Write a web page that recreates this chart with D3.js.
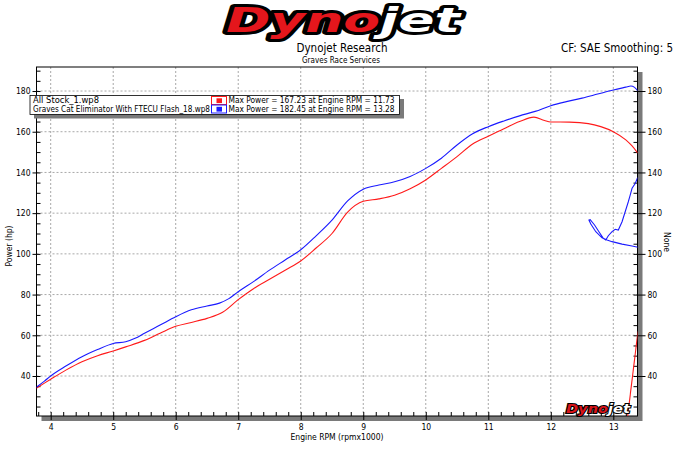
<!DOCTYPE html>
<html>
<head>
<meta charset="utf-8">
<script src="https://cdn.jsdelivr.net/npm/d3@7"></script>
<style>
  body { margin: 0; background: #fff; }
  text { font-family: "DejaVu Sans Condensed", "Liberation Sans", sans-serif; }
</style>
</head>
<body>
<div id="chart"></div>
<script>
// chart values
const rpmStock = [3.77, 3.9, 4.0, 4.25, 4.5, 4.75, 5.0, 5.2, 5.5, 5.75, 6.0, 6.25, 6.5, 6.75, 7.0, 7.25, 7.5, 7.75, 8.0, 8.25, 8.5, 8.75, 9.0, 9.25, 9.5, 9.75, 10.0, 10.25, 10.5, 10.75, 11.0, 11.25, 11.5, 11.73, 11.9, 12.0, 12.3, 12.6, 12.8, 13.0, 13.2, 13.3, 13.39]
const hpStock = [34.0, 36.5, 38.4, 43.0, 47.0, 50.0, 52.3, 54.3, 57.5, 61.0, 64.4, 66.3, 68.3, 71.3, 77.5, 83.0, 87.5, 92.0, 96.5, 103.0, 110.0, 120.5, 125.8, 127.0, 128.8, 132.0, 136.3, 142.0, 147.8, 154.0, 157.8, 161.5, 165.0, 167.2, 165.5, 164.8, 164.7, 164.0, 162.5, 160.0, 156.0, 153.0, 149.5]

const rpmCat = [3.77, 3.9, 4.0, 4.25, 4.5, 4.75, 5.0, 5.2, 5.35, 5.5, 5.75, 6.0, 6.25, 6.5, 6.7, 6.85, 7.0, 7.25, 7.5, 7.75, 8.0, 8.25, 8.5, 8.75, 9.0, 9.25, 9.5, 9.75, 10.0, 10.25, 10.5, 10.75, 11.0, 11.25, 11.5, 11.75, 12.0, 12.25, 12.5, 12.75, 13.0, 13.2, 13.28, 13.34, 13.39]
const hpCat = [34.5, 37.5, 40.0, 45.0, 49.5, 53.0, 56.0, 56.8, 58.5, 61.0, 65.0, 69.1, 72.5, 74.4, 75.8, 78.0, 81.4, 86.5, 92.0, 97.0, 102.0, 109.0, 116.6, 126.0, 131.8, 133.8, 135.4, 138.0, 142.0, 147.0, 153.5, 159.0, 162.5, 165.3, 167.8, 170.0, 172.8, 174.8, 176.5, 178.5, 180.5, 181.9, 182.45, 181.8, 180.2]

// second channel traces (right axis "None")
const rpmCatAux = [13.40, 13.30, 13.14, 12.98, 12.90, 12.82, 12.72, 12.64, 12.61, 12.63, 12.70, 12.77, 12.84, 12.88, 12.92, 12.98, 13.03, 13.08, 13.14, 13.19, 13.24, 13.27, 13.30, 13.35, 13.39]
const valCatAux = [103.2, 103.9, 104.8, 106.0, 106.8, 107.9, 110.9, 114.7, 116.6, 116.8, 114.2, 110.9, 107.6, 106.8, 108.9, 110.9, 112.1, 111.7, 115.8, 120.7, 125.6, 128.9, 132.2, 134.6, 137.5]
const rpmStockAux = [13.23, 13.395]
const valStockAux = [20.4, 62.0]

const xTicks = [4, 5, 6, 7, 8, 9, 10, 11, 12, 13]
const yTicks = [40, 60, 80, 100, 120, 140, 160, 180]
const runNames = ["All Stock_1.wp8", "Graves Cat Eliminator With FTECU Flash_18.wp8"]
const runMax = ["Max Power = 167.23 at Engine RPM = 11.73", "Max Power = 182.45 at Engine RPM = 13.28"]
const runColors = ["#ff1a1a", "#1a1aff"]

var width = 680, height = 457
var plot = {left: 36.5, right: 637.5, top: 67, bottom: 416}

const svg = d3.select("#chart").append("svg")
    .attr("width", width)
    .attr("height", height)

const x = d3.scaleLinear().domain([3.773, 13.387]).range([plot.left, plot.right])
const y = d3.scaleLinear().domain([20.35, 191.8]).range([plot.bottom, plot.top])

// drop shadow of the plot frame
svg.append("rect")
    .attr("x", plot.left + 5).attr("y", plot.top + 5)
    .attr("width", plot.right - plot.left).attr("height", plot.bottom - plot.top)
    .attr("fill", "#7a7a7a")
svg.append("rect")
    .attr("x", plot.left).attr("y", plot.top)
    .attr("width", plot.right - plot.left).attr("height", plot.bottom - plot.top)
    .attr("fill", "#fff")

// dotted grid
svg.append("g").selectAll("line")
    .data(xTicks).join("line")
    .attr("x1", d => x(d)).attr("x2", d => x(d))
    .attr("y1", plot.top).attr("y2", plot.bottom)
    .attr("stroke", "#a8a8a8").attr("stroke-dasharray", "2,2")
svg.append("g").selectAll("line")
    .data(yTicks).join("line")
    .attr("x1", plot.left).attr("x2", plot.right)
    .attr("y1", d => y(d)).attr("y2", d => y(d))
    .attr("stroke", "#a8a8a8").attr("stroke-dasharray", "2,2")

// axes (ticks drawn by d3.axis, minor ones inside)
const minorX = d3.range(3.8, 13.39, 0.2).filter(v => Math.abs(v - Math.round(v)) > 0.01)
const minorY = d3.range(25, 191, 5).filter(v => v % 20 != 0)

function styleAxis(g) {
    g.select(".domain").remove()
    g.selectAll("line").attr("stroke", "#000")
    g.selectAll("text").attr("font-size", 8.5).attr("fill", "#000")
        .style("font-family", '"DejaVu Sans Condensed", "Liberation Sans", sans-serif')
}

svg.append("g").attr("transform", `translate(0,${plot.bottom})`)
    .call(d3.axisBottom(x).tickValues(minorX).tickSize(-4).tickFormat(""))
    .call(styleAxis)
svg.append("g").attr("transform", `translate(0,${plot.bottom})`)
    .call(d3.axisBottom(x).tickValues(xTicks).tickSize(4).tickPadding(4).tickFormat(d3.format("d")))
    .call(styleAxis)
    .call(g => g.selectAll(".tick line").attr("y1", -4))

svg.append("g").attr("transform", `translate(${plot.left},0)`)
    .call(d3.axisLeft(y).tickValues(minorY).tickSize(-4).tickFormat(""))
    .call(styleAxis)
svg.append("g").attr("transform", `translate(${plot.left},0)`)
    .call(d3.axisLeft(y).tickValues(yTicks).tickSize(4).tickPadding(2).tickFormat(d3.format("d")))
    .call(styleAxis)
    .call(g => g.selectAll(".tick line").attr("x1", 4))

svg.append("g").attr("transform", `translate(${plot.right},0)`)
    .call(d3.axisRight(y).tickValues(minorY).tickSize(-4).tickFormat(""))
    .call(styleAxis)
svg.append("g").attr("transform", `translate(${plot.right},0)`)
    .call(d3.axisRight(y).tickValues(yTicks).tickSize(8).tickPadding(2).tickFormat(d3.format("d")))
    .call(styleAxis)
    .call(g => g.selectAll(".tick line").attr("x1", -4))

// frame
svg.append("rect")
    .attr("x", plot.left).attr("y", plot.top)
    .attr("width", plot.right - plot.left).attr("height", plot.bottom - plot.top)
    .attr("fill", "none").attr("stroke", "#000").attr("stroke-width", 1)

// curves
svg.append("clipPath").attr("id", "clip").append("rect")
    .attr("x", plot.left).attr("y", plot.top)
    .attr("width", plot.right - plot.left).attr("height", plot.bottom - plot.top)

const curves = svg.append("g").attr("clip-path", "url(#clip)")
const line = d3.line().x(d => x(d[0])).y(d => y(d[1])).curve(d3.curveMonotoneX)
const lineRaw = d3.line().x(d => x(d[0])).y(d => y(d[1])).curve(d3.curveLinear)

const traces = [
    {pts: d3.zip(rpmStockAux, valStockAux), color: runColors[0], gen: lineRaw},
    {pts: d3.zip(rpmCatAux, valCatAux), color: runColors[1], gen: lineRaw},
    {pts: d3.zip(rpmStock, hpStock), color: runColors[0], gen: line},
    {pts: d3.zip(rpmCat, hpCat), color: runColors[1], gen: line}
]
traces.forEach(t => {
    curves.append("path")
        .attr("d", t.gen(t.pts))
        .attr("fill", "none")
        .attr("stroke", t.color)
        .attr("stroke-width", 1.1)
})

// small logo bottom right
const smallLogo = svg.append("text")
    .attr("x", 566).attr("y", 413)
    .attr("font-size", 12).attr("font-weight", "bold").attr("font-style", "italic")
    .attr("textLength", 64).attr("lengthAdjust", "spacingAndGlyphs")
    .style("font-family", '"DejaVu Sans", sans-serif')
    .attr("stroke", "#000").attr("stroke-width", 2).style("paint-order", "stroke")
smallLogo.append("tspan").text("Dyno").attr("fill", "#d8141a")
smallLogo.append("tspan").text("jet").attr("fill", "#fff")

// legend
const legend = svg.append("g")
legend.append("rect").attr("x", 34).attr("y", 99).attr("width", 370).attr("height", 19.5).attr("fill", "#7a7a7a")
legend.append("rect").attr("x", 30).attr("y", 95.5).attr("width", 369.5).attr("height", 19)
    .attr("fill", "#fff").attr("stroke", "#000").attr("stroke-width", 0.8)
const nameWidths = [66, 177]
runNames.forEach((name, i) => {
    var yy = 103.3 + i * 9
    legend.append("text").attr("x", 33).attr("y", yy).attr("font-size", 8.5)
        .attr("textLength", nameWidths[i]).attr("lengthAdjust", "spacingAndGlyphs").text(name)
    legend.append("rect").attr("x", 211.5).attr("y", 96.5 + i * 8.5).attr("width", 15).attr("height", 8)
        .attr("fill", "#fff").attr("stroke", runColors[i]).attr("stroke-width", 1)
    legend.append("rect").attr("x", 216.5).attr("y", 98.3 + i * 8.5).attr("width", 5.5).attr("height", 4.8)
        .attr("fill", runColors[i])
    legend.append("text").attr("x", 228.5).attr("y", yy).attr("font-size", 8.5)
        .attr("textLength", 166).attr("lengthAdjust", "spacingAndGlyphs").text(runMax[i])
})

// titles
svg.append("text").attr("x", 342).attr("y", 52).attr("text-anchor", "middle")
    .attr("font-size", 11.5).text("Dynojet Research")
svg.append("text").attr("x", 341).attr("y", 62.5).attr("text-anchor", "middle")
    .attr("font-size", 8).text("Graves Race Services")
svg.append("text").attr("x", 673).attr("y", 52).attr("text-anchor", "end")
    .attr("font-size", 11.5).text("CF: SAE Smoothing: 5")

// axis titles
svg.append("text").attr("x", 337).attr("y", 440).attr("text-anchor", "middle")
    .attr("font-size", 8.5).text("Engine RPM (rpmx1000)")
svg.append("text").attr("transform", "translate(12,246) rotate(-90)").attr("text-anchor", "middle")
    .attr("font-size", 8.5).text("Power (hp)")
svg.append("text").attr("transform", "translate(664,242) rotate(90)").attr("text-anchor", "middle")
    .attr("font-size", 8.5).text("None")

// big logo on top
const logo = svg.append("text")
    .attr("x", 226).attr("y", 32)
    .attr("font-size", 33).attr("font-weight", "bold").attr("font-style", "italic")
    .attr("textLength", 234).attr("lengthAdjust", "spacingAndGlyphs")
    .style("font-family", '"DejaVu Sans", sans-serif')
    .attr("stroke", "#000").attr("stroke-width", 6).attr("stroke-linejoin", "round")
    .style("paint-order", "stroke")
logo.append("tspan").text("Dyno").attr("fill", "#e4161c")
logo.append("tspan").text("jet").attr("fill", "#fff")
</script>
</body>
</html>
